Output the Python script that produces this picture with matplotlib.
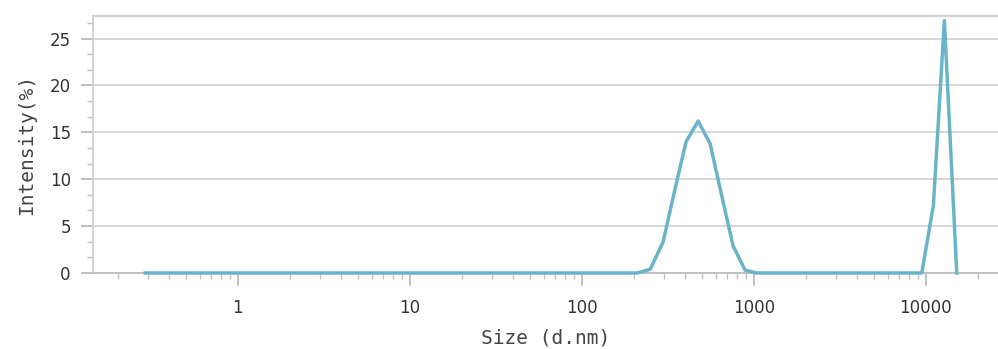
import matplotlib
matplotlib.use("Agg")
import matplotlib.pyplot as plt
from matplotlib.ticker import FixedLocator, LogLocator, NullFormatter, AutoMinorLocator

# Intensity distribution (size in d.nm, intensity in %)
size_nm = [0.29, 210, 250, 297, 346, 404, 475, 557, 650, 758, 890, 1038,
           9480, 11070, 12830, 15140]
intensity = [0.0, 0.0, 0.4, 3.3, 8.7, 14.0, 16.2, 13.8, 8.3, 2.9, 0.3, 0.0,
             0.0, 7.2, 26.9, 0.0]

x_ticks = [1, 10, 100, 1000, 10000]
x_tick_labels = ["1", "10", "100", "1000", "10000"]
y_ticks = [0, 5, 10, 15, 20, 25]

line_color = "#6ab4c8"
grid_color = "#d4d4d4"

fig = plt.figure(figsize=(9.98, 3.49), dpi=100)
ax = fig.add_axes([93 / 998, 1 - 273 / 349, (998 - 93) / 998, (273 - 16) / 349])

ax.plot(size_nm, intensity, color=line_color, linewidth=2.5, clip_on=False, zorder=3)

ax.set_xscale("log")
ax.set_xlim(0.144, 26300)
ax.set_ylim(0, 27.4)

ax.xaxis.set_major_locator(FixedLocator(x_ticks))
ax.set_xticks(x_ticks)
ax.set_xticklabels(x_tick_labels)
ax.xaxis.set_minor_locator(LogLocator(base=10, subs=range(2, 10)))
ax.xaxis.set_minor_formatter(NullFormatter())

ax.set_yticks(y_ticks)
ax.yaxis.set_minor_locator(AutoMinorLocator(3))

ax.grid(axis="y", which="major", color=grid_color, linewidth=1.3)
ax.set_axisbelow(True)

for side in ["top", "right"]:
    ax.spines[side].set_visible(False)
ax.axhline(27.4, color=grid_color, linewidth=1.6, clip_on=False, zorder=1)
ax.spines["left"].set_color("#cfcfcf")
ax.spines["bottom"].set_color("#bdbdbd")
ax.spines["left"].set_linewidth(1.3)
ax.spines["bottom"].set_linewidth(1.3)

ax.tick_params(axis="both", which="major", length=9, width=1.2, color="#b5b5b5",
               labelsize=12, labelcolor="#333333")
ax.tick_params(axis="x", which="major", pad=10)
ax.tick_params(axis="y", which="major", pad=7)
ax.tick_params(axis="both", which="minor", length=4.5, width=1.0, color="#c0c0c0")

mono = ["DejaVu Sans Mono"]
ax.set_xlabel("Size (d.nm)", fontsize=14, family=mono, color="#444444", labelpad=8)
ax.set_ylabel("Intensity(%)", fontsize=14, family=mono, color="#444444", labelpad=10)

fig.savefig("out.png", dpi=100)
